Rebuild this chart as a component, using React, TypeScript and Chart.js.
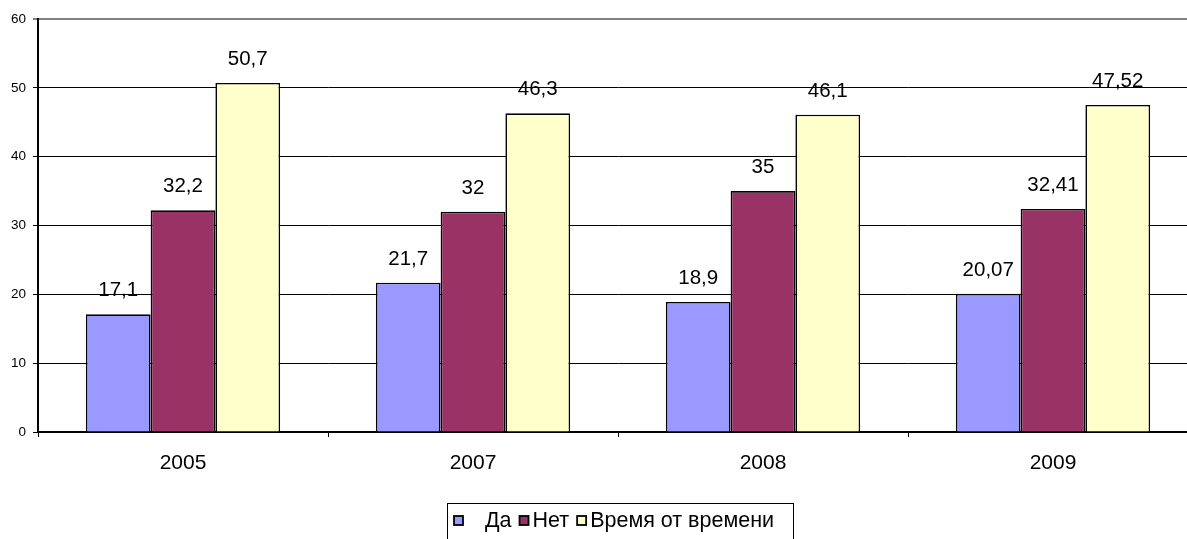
import React, { useEffect, useRef } from "react";
import { Chart, registerables } from "chart.js";

Chart.register(...registerables);

const categories = ["2005", "2007", "2008", "2009"];
const seriesNames = ["Да", "Нет", "Время от времени"];
const daValues = [17.1, 21.7, 18.9, 20.07];
const netValues = [32.2, 32, 35, 32.41];
const vremyaValues = [50.7, 46.3, 46.1, 47.52];
const seriesColors = ["#9999FF", "#993366", "#FFFFCC"];
const yTicks = [0, 10, 20, 30, 40, 50, 60];

const FONT = "Arial, 'Liberation Sans', sans-serif";

const fmt = (v: number) => String(v).replace(".", ",");

const dataLabelPlugin = {
  id: "dataLabels",
  afterDatasetsDraw(chart: any) {
    const ctx = chart.ctx;
    ctx.save();
    ctx.font = `20.5px ${FONT}`;
    ctx.fillStyle = "#000";
    ctx.textAlign = "center";
    ctx.textBaseline = "alphabetic";
    chart.data.datasets.forEach((ds: any, i: number) => {
      const meta = chart.getDatasetMeta(i);
      meta.data.forEach((bar: any, j: number) => {
        ctx.fillText(fmt(ds.data[j]), bar.x, bar.y - 18);
      });
    });
    ctx.restore();
  },
};

const legendPlugin = {
  id: "boxLegend",
  afterDraw(chart: any) {
    const ctx = chart.ctx;
    ctx.save();
    ctx.font = `21.5px ${FONT}`;
    ctx.textBaseline = "middle";
    ctx.textAlign = "left";
    const left = 447;
    const top = 503;
    const right = 793;
    const cy = 521;
    ctx.strokeStyle = "#000";
    ctx.lineWidth = 1;
    ctx.strokeRect(left + 0.5, top + 0.5, right - left, 60);
    let x = 454;
    chart.data.datasets.forEach((ds: any, i: number) => {
      ctx.fillStyle = ds.backgroundColor;
      ctx.fillRect(x, cy - 5, 9, 9);
      ctx.strokeStyle = "#000";
      ctx.lineWidth = 1.8;
      ctx.strokeRect(x, cy - 5, 9, 9);
      const tx = x + (i === 0 ? 31 : 13);
      ctx.fillStyle = "#000";
      ctx.fillText(ds.label, tx, cy);
      x = tx + ctx.measureText(ds.label).width + 8;
    });
    ctx.restore();
  },
};

export default function App() {
  const ref = useRef<HTMLCanvasElement | null>(null);

  useEffect(() => {
    if (!ref.current) return;
    const chart = new Chart(ref.current, {
      type: "bar",
      data: {
        labels: categories,
        datasets: [daValues, netValues, vremyaValues].map((vals, i) => ({
          label: seriesNames[i],
          data: vals,
          backgroundColor: seriesColors[i],
          borderColor: "#000",
          borderWidth: 1.6,
          categoryPercentage: 0.67,
          barPercentage: 1,
        })),
      },
      options: {
        responsive: false,
        animation: false,
        devicePixelRatio: 1,
        layout: { padding: { top: 19, left: 0, right: 0, bottom: 57 } },
        plugins: {
          legend: { display: false },
          tooltip: { enabled: false },
        },
        scales: {
          x: {
            grid: {
              display: true,
              offset: true,
              drawOnChartArea: false,
              drawTicks: true,
              tickLength: 5,
              color: "#000",
            },
            border: { display: true, color: "#000", width: 1.5 },
            ticks: {
              color: "#000",
              font: { size: 21, family: FONT },
              padding: 14,
            },
            afterFit(scale: any) {
              scale.height = 50;
            },
          },
          y: {
            min: 0,
            max: 60,
            afterBuildTicks(scale: any) {
              scale.ticks = yTicks.map((v) => ({ value: v }));
            },
            grid: {
              color: (c: any) => (c.tick && c.tick.value === 60 ? "#808080" : "#000"),
              lineWidth: (c: any) => (c.tick && c.tick.value === 60 ? 2 : 1),
              tickLength: 5,
              drawTicks: true,
            },
            border: { display: true, color: "#000", width: 2 },
            ticks: {
              color: "#000",
              font: { size: 13.5, family: FONT },
              padding: 7,
            },
            afterFit(scale: any) {
              scale.width = 38;
            },
          },
        },
      },
      plugins: [dataLabelPlugin, legendPlugin],
    });
    return () => chart.destroy();
  }, []);

  return (
    <div
      style={{
        position: "fixed",
        left: 0,
        top: 0,
        width: 1187,
        height: 539,
        overflow: "hidden",
        background: "#fff",
      }}
    >
      <canvas ref={ref} width={1198} height={539} style={{ display: "block" }} />
    </div>
  );
}
